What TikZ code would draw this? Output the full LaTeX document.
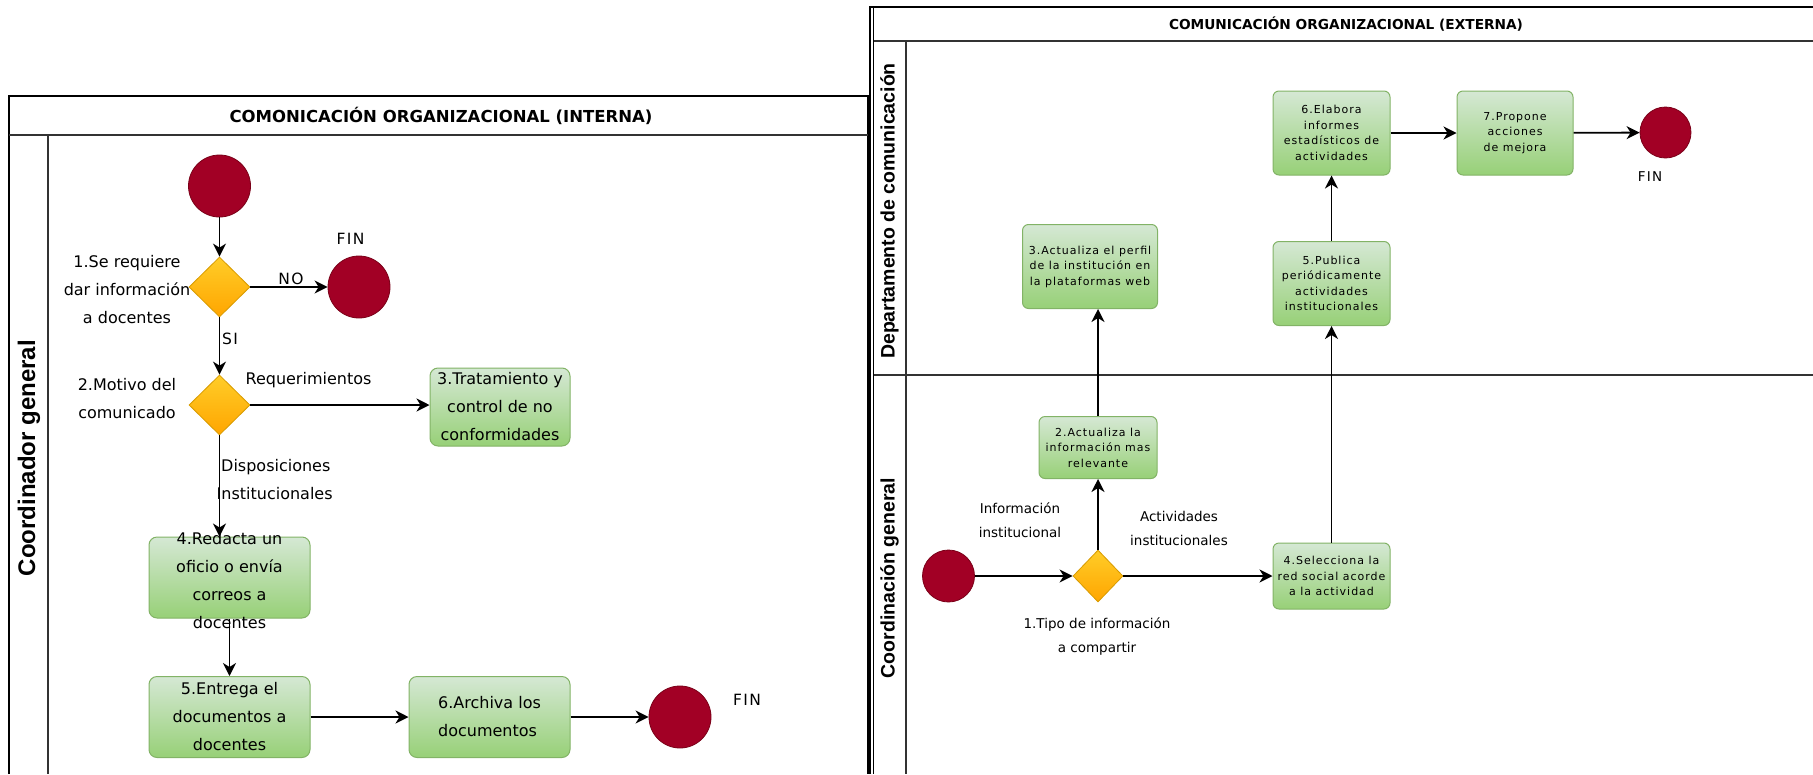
\documentclass[tikz,border=0pt]{standalone}
\usepackage{fontspec}
\setmainfont{DejaVu Sans}
\newfontfamily\lanefont{Liberation Sans}
\newfontfamily\tinyfont{DejaVu Sans}[LetterSpace=9]
\usetikzlibrary{arrows.meta,shapes.geometric,positioning}
\definecolor{finred}{HTML}{A20025}
\definecolor{finedge}{HTML}{7A0018}
\definecolor{gatetop}{HTML}{FFCD28}
\definecolor{gatebot}{HTML}{FFA500}
\definecolor{gateedge}{HTML}{D79B00}
\definecolor{acttop}{HTML}{D5E8D4}
\definecolor{actbot}{HTML}{97D077}
\definecolor{actedge}{HTML}{82B366}
\definecolor{laneline}{HTML}{333333}
\tikzset{
  evento/.style={circle,fill=finred,draw=finedge,line width=0.8pt,inner sep=0pt},
  compuerta/.style={diamond,top color=gatetop,bottom color=gatebot,draw=gateedge,
    line width=0.8pt,inner sep=0pt,minimum width=61pt,minimum height=60pt},
  actividad/.style={rectangle,rounded corners=8pt,top color=acttop,bottom color=actbot,
    draw=actedge,line width=1pt,align=center,inner sep=0pt,
    font=\fontsize{16}{28}\selectfont},
  actchica/.style={actividad,rounded corners=6pt,font=\tinyfont\fontsize{11}{15.5}\selectfont},
  texto/.style={align=center,inner sep=0pt,font=\fontsize{16}{28}\selectfont},
  textochico/.style={align=center,inner sep=0pt,font=\fontsize{13.5}{23.5}\selectfont},
  rotulo/.style={inner sep=0pt,font=\tinyfont\fontsize{15.5}{18}\selectfont},
  lane/.style={rotate=90,inner sep=0pt,font=\lanefont\bfseries\fontsize{19.5}{22}\selectfont},
  flujo/.style={-{Stealth[length=13pt,width=13pt,inset=4pt]},line width=1.8pt},
  borde/.style={line width=2pt},
  carril/.style={line width=1.8pt,draw=laneline}
}
\begin{document}
\begin{tikzpicture}[x=1pt,y=-1pt]
  \useasboundingbox (0,0) rectangle (1813,774);
  % pool interno
  \draw[borde] (9,774) -- (9,96) -- (868,96) -- (868,774);
  \draw[carril] (9,135) -- (868,135);
  \draw[carril] (48,135) -- (48,774);
  \node[font=\bfseries\fontsize{16.5}{20}\selectfont] (tit1) at (441,115.5)
    {COMONICACIÓN ORGANIZACIONAL (INTERNA)};
  \node[lane,font=\lanefont\bfseries\fontsize{24}{28}\selectfont] (lane1) at (29,458)
    {Coordinador general};
  % pool externo
  \draw[borde] (870,774) -- (870,7) -- (1813,7);
  \draw[line width=1.6pt] (873.4,7) -- (873.4,774);
  \draw[carril] (874,41) -- (1813,41);
  \draw[carril] (906,41) -- (906,774);
  \draw[carril] (874,375) -- (1813,375);
  \node[font=\bfseries\fontsize{13.7}{16}\selectfont] (tit2) at (1346,24)
    {COMUNICACIÓN ORGANIZACIONAL (EXTERNA)};
  \node[lane] (lane2) at (889.5,211) {Departamento de comunicación};
  \node[lane] (lane3) at (889.5,578) {Coordinación general};

  % flujo interno
  \node[evento,minimum size=62pt] (ini) at (219.5,186) {};
  \node[compuerta] (d1) at (219.5,287) {};
  \node[evento,minimum size=62pt] (fin1) at (359,287) {};
  \node[compuerta] (d2) at (219.5,405) {};
  \node[actividad,minimum width=140pt,minimum height=78pt] (t3) at (500,407)
    {3.Tratamiento y\\control de no\\conformidades};
  \node[actividad,minimum width=161pt,minimum height=81pt,
    label={[texto,yshift=-3pt]center:4.Redacta un\\oficio o envía\\correos a\\docentes}]
    (t4) at (229.5,577.5) {};
  \node[actividad,minimum width=161pt,minimum height=81pt] (t5) at (229.5,717)
    {5.Entrega el\\documentos a\\docentes};
  \node[actividad,align=left,minimum width=161pt,minimum height=81pt] (t6) at (489.5,717)
    {6.Archiva los\\documentos};
  \node[evento,minimum size=62pt] (fin2) at (680,717) {};
  \node[texto] (q1) at (127,290) {1.Se requiere\\dar información\\a docentes};
  \node[texto] (q2) at (127,399) {2.Motivo del\\comunicado};
  \node[rotulo] (fin1t) at (350.5,239) {FIN};
  \node[rotulo] (no) at (291,279) {NO};
  \node[rotulo] (si) at (230,339) {SI};
  \node[texto] (req) at (308.5,380) {Requerimientos};
  \node[texto,align=left,anchor=west] (disp) at (221,480)
    {Disposiciones\\\hspace*{-4.5pt}Institucionales};
  \node[rotulo] (fin2t) at (747,700) {FIN};
  \draw[flujo] (ini) -- (d1);
  \draw[flujo] (d1) -- (fin1);
  \draw[flujo] (d1) -- (d2);
  \draw[flujo] (d2.east) -- (d2.east -| t3.west);
  \draw[flujo] (d2.south) -- (d2.south |- t4.north);
  \draw[flujo] (t4) -- (t5);
  \draw[flujo] (t5) -- (t6);
  \draw[flujo] (t6) -- (fin2);

  % flujo externo
  \node[evento,minimum size=52pt] (ini2) at (948.5,576) {};
  \node[compuerta,minimum width=50pt,minimum height=52pt] (d3) at (1098,576) {};
  \node[actchica,minimum width=118pt,minimum height=62pt] (e2) at (1098,447.5)
    {2.Actualiza la\\información mas\\relevante};
  \node[actchica,minimum width=135pt,minimum height=84pt] (e3) at (1090,266.5)
    {3.Actualiza el perfil\\de la institución en\\la plataformas web};
  \node[actchica,minimum width=117pt,minimum height=66pt] (e4) at (1331.5,576)
    {4.Selecciona la\\red social acorde\\a la actividad};
  \node[actchica,minimum width=117pt,minimum height=84pt] (e5) at (1331.5,283.5)
    {5.Publica\\periódicamente\\actividades\\institucionales};
  \node[actchica,minimum width=117pt,minimum height=84pt] (e6) at (1331.5,133)
    {6.Elabora\\informes\\estadísticos de\\actividades};
  \node[actchica,minimum width=116pt,minimum height=84pt] (e7) at (1515,133)
    {7.Propone\\acciones\\de mejora};
  \node[evento,minimum size=51pt] (fin3) at (1665.5,132.5) {};
  \node[rotulo,font=\tinyfont\fontsize{13.5}{16}\selectfont] (fin3t) at (1650,177) {FIN};
  \node[textochico] (q3) at (1020,520) {Información\\institucional};
  \node[textochico] (act) at (1179,528.5) {Actividades\\institucionales};
  \node[textochico] (q4) at (1097,636.5) {1.Tipo de información\\a compartir};
  \draw[flujo] (ini2) -- (d3);
  \draw[flujo] (d3) -- (e4);
  \draw[flujo] (d3) -- (e2);
  \draw[flujo] (e2.north) -- (e2.north |- e3.south);
  \draw[flujo] (e4) -- (e5);
  \draw[flujo] (e5) -- (e6);
  \draw[flujo] (e6) -- (e7);
  \draw[flujo] (e7) -- (fin3);
\end{tikzpicture}
\end{document}
